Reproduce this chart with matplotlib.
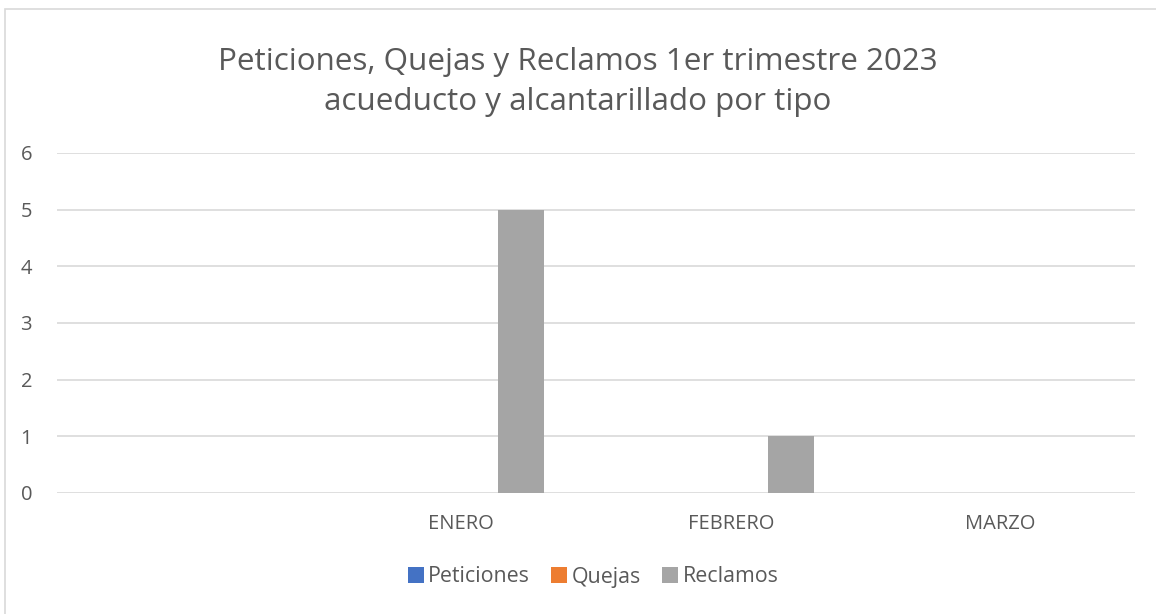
import numpy as np
import matplotlib.pyplot as plt
from matplotlib.patches import Rectangle

# ------------------------------------------------------------------
# Data
# ------------------------------------------------------------------
categories = ["", "ENERO", "FEBRERO", "MARZO"]
series_names = ["Peticiones", "Quejas", "Reclamos"]
peticiones = [0, 0, 0, 0]
quejas = [0, 0, 0, 0]
reclamos = [0, 5, 1, 0]
y_ticks = [0, 1, 2, 3, 4, 5, 6]

colors = ["#4472c4", "#ed7d31", "#a5a5a5"]
text_color = "#595959"
grid_color = "#d9d9d9"

plt.rcParams["font.family"] = ["Open Sans", "DejaVu Sans"]

# ------------------------------------------------------------------
# Figure
# ------------------------------------------------------------------
W, H = 1156, 614
fig = plt.figure(figsize=(W / 100, H / 100), dpi=100)

# chart area border (only left and top edges fall inside the image)
fig.patches.append(Rectangle((4.5 / W, -0.05), 1.2, 1 - 9 / H + 0.05,
                             transform=fig.transFigure, fill=False,
                             edgecolor=grid_color, linewidth=1.2))

left, right = 57 / W, 1135 / W
bottom, top = 1 - 493 / H, 1 - 153 / H
ax = fig.add_axes([left, bottom, right - left, top - bottom])

x = np.arange(len(categories))
bar_w = 0.171
step = 0.223
for i, (name, vals) in enumerate(zip(series_names, [peticiones, quejas, reclamos])):
    ax.bar(x + (i - 1) * step, vals, width=bar_w, color=colors[i],
           label=name, zorder=3)

ax.set_xlim(-0.5, len(categories) - 0.5)
ax.set_ylim(0, 6)
ax.set_yticks(y_ticks)
ax.set_xticks(x)
ax.set_xticklabels(categories)
ax.tick_params(axis="both", length=0, labelsize=14.5, colors=text_color)
ax.tick_params(axis="x", pad=15)
ax.tick_params(axis="y", pad=18)

ax.grid(axis="y", color=grid_color, linewidth=1.2, zorder=0)
for sp in ax.spines.values():
    sp.set_visible(False)

fig.text(0.5, 1 - 62 / H, "Peticiones, Quejas y Reclamos 1er trimestre 2023",
         ha="center", va="center", fontsize=22.6, color=text_color)
fig.text(0.5, 1 - 102 / H, "acueducto y alcantarillado por tipo",
         ha="center", va="center", fontsize=22.6, color=text_color)

fig.legend(loc="center", bbox_to_anchor=(593 / W, 1 - 577 / H), ncol=3,
           frameon=False, fontsize=15.4, labelcolor=text_color,
           handlelength=0.75, handleheight=0.75, handletextpad=0.2,
           columnspacing=1.0)

plt.savefig("out.png", dpi=100)
plt.close()
